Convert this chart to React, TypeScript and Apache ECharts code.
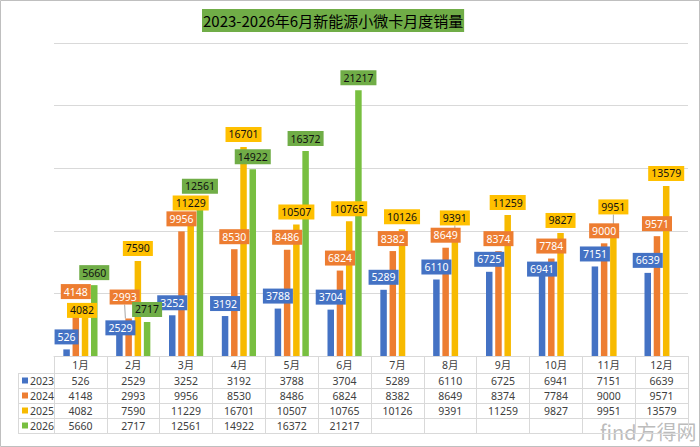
import React, { useEffect, useRef } from "react";
import * as echarts from "echarts";

const TITLE = "2023-2026年6月新能源小微卡月度销量";
const MONTHS = ["1月", "2月", "3月", "4月", "5月", "6月", "7月", "8月", "9月", "10月", "11月", "12月"];
const YEARS = ["2023", "2024", "2025", "2026"];
const S2023 = [526, 2529, 3252, 3192, 3788, 3704, 5289, 6110, 6725, 6941, 7151, 6639];
const S2024 = [4148, 2993, 9956, 8530, 8486, 6824, 8382, 8649, 8374, 7784, 9000, 9571];
const S2025 = [4082, 7590, 11229, 16701, 10507, 10765, 10126, 9391, 11259, 9827, 9951, 13579];
const S2026: (number | null)[] = [5660, 2717, 12561, 14922, 16372, 21217, null, null, null, null, null, null];
const SERIES = [S2023, S2024, S2025, S2026];

// styling
const BAR_COLORS = ["#4472C4", "#ED7D31", "#F7BA00", "#78BF40"];
const LABEL_BG = ["#4472C4", "#ED7D31", "#FFC000", "#70AD47"];
const LABEL_FG = ["#ffffff", "#ffffff", "#111111", "#111111"];

// layout
const W = 700;
const H = 447;
const GRID_L = 54;
const GRID_R = 688;
const GRID_T = 43;
const AXIS_Y = 356;
const HEAD_H = 17;
const ROW_H = 15;
const TABLE_L = 18;
const LINE_C = "#d9d9d9";
const TEXT_C = "#404040";
const FONT = "'Noto Sans', 'Noto Sans CJK SC', sans-serif";

// manual label nudges (series:index -> [dx, dy]) and which get leader lines
const LABEL_SHIFT: Record<string, [number, number]> = {
  "2:0": [-3, 18],
  "0:1": [1, 16],
  "1:1": [-4, -9],
  "2:7": [0, -8],
  "0:9": [0, 12.5],
  "2:10": [0, -12],
};
const LEADERS = new Set(["1:1", "2:7", "2:10"]);

export default function App() {
  const ref = useRef<HTMLDivElement>(null);
  useEffect(() => {
    document.body.style.margin = "0";
    const chart = echarts.init(ref.current!, null, { renderer: "svg" });
    const tableBottom = AXIS_Y + HEAD_H + ROW_H * 4;

    const xAxes: any[] = [
      {
        type: "category",
        data: MONTHS,
        position: "bottom",
        axisLine: { show: true, lineStyle: { color: LINE_C } },
        axisTick: { show: true, interval: 0, length: tableBottom - AXIS_Y, lineStyle: { color: LINE_C } },
        axisLabel: { interval: 0, margin: 0, lineHeight: HEAD_H, fontSize: 10.5, color: TEXT_C, fontFamily: FONT },
      },
    ];
    SERIES.forEach((vals, r) => {
      xAxes.push({
        type: "category",
        data: MONTHS,
        position: "bottom",
        offset: HEAD_H + ROW_H * r,
        axisLine: { show: true, lineStyle: { color: LINE_C } },
        axisTick: { show: false },
        axisLabel: {
          interval: 0,
          margin: 0,
          lineHeight: ROW_H,
          fontSize: 10.5,
          color: TEXT_C,
          fontFamily: FONT,
          formatter: (_v: string, idx: number) => (vals[idx] == null ? "" : String(vals[idx])),
        },
      });
    });
    xAxes.push({
      type: "category",
      data: MONTHS,
      position: "bottom",
      offset: HEAD_H + ROW_H * 4,
      axisLine: { show: true, lineStyle: { color: LINE_C } },
      axisTick: { show: false },
      axisLabel: { show: false },
    });

    const leftLines: any[] = [];
    for (let r = 0; r <= 4; r++) {
      const y = AXIS_Y + HEAD_H + ROW_H * r + 0.5;
      leftLines.push({ type: "line", shape: { x1: TABLE_L, y1: y, x2: GRID_L, y2: y }, style: { stroke: LINE_C, lineWidth: 1 }, silent: true });
    }
    leftLines.push({
      type: "line",
      shape: { x1: TABLE_L + 0.5, y1: AXIS_Y + HEAD_H, x2: TABLE_L + 0.5, y2: tableBottom + 0.5 },
      style: { stroke: LINE_C, lineWidth: 1 },
      silent: true,
    });

    chart.setOption({
      animation: false,
      backgroundColor: "#ffffff",
      title: {
        text: TITLE,
        left: 202,
        top: 9,
        padding: [3, 1],
        backgroundColor: "#70AD47",
        textStyle: { fontSize: 15, lineHeight: 17, fontWeight: "normal", color: "#000", fontFamily: "'Noto Sans CJK SC', sans-serif" },
      },
      legend: {
        data: YEARS,
        orient: "vertical",
        left: TABLE_L + 4,
        top: AXIS_Y + HEAD_H,
        padding: 0,
        itemGap: 0,
        itemWidth: 6,
        itemHeight: 6,
        icon: "rect",
        selectedMode: false,
        textStyle: { fontSize: 10.5, lineHeight: ROW_H, color: TEXT_C, fontFamily: FONT, padding: [0, 0, 0, -3] },
      },
      grid: { left: GRID_L, right: W - GRID_R, top: GRID_T, bottom: H - AXIS_Y },
      xAxis: xAxes,
      yAxis: {
        type: "value",
        min: 0,
        max: 25000,
        interval: 5000,
        axisLabel: { show: false },
        axisLine: { show: false },
        axisTick: { show: false },
        splitLine: { lineStyle: { color: LINE_C, width: 1 } },
      },
      series: SERIES.map((vals, si) => ({
        name: YEARS[si],
        type: "bar",
        xAxisIndex: 0,
        barWidth: 6.5,
        barGap: "42%",
        itemStyle: { color: BAR_COLORS[si] },
        data: vals.map((v, i) => (LEADERS.has(`${si}:${i}`) ? { value: v, labelLine: { show: true, lineStyle: { color: "#a6a6a6", width: 1 } } } : v)),
        label: {
          show: true,
          position: "top",
          distance: 5,
          fontSize: 10.5,
          lineHeight: 10,
          fontFamily: FONT,
          padding: [2.5, 3],
          backgroundColor: LABEL_BG[si],
          color: LABEL_FG[si],
        },
        labelLayout: (p: any) => {
          const s = LABEL_SHIFT[`${p.seriesIndex}:${p.dataIndex}`];
          return s ? { dx: s[0], dy: s[1] } : {};
        },
      })),
      graphic: [
        ...leftLines,
        {
          type: "rect",
          shape: { x: 0.5, y: 0.5, width: W - 1, height: H - 1 },
          style: { fill: "none", stroke: "#bfbfbf", lineWidth: 1 },
          silent: true,
        },
        {
          type: "text",
          x: 600,
          y: 421,
          style: { text: "find方得网", fontSize: 20, fill: "#b0b0b0", opacity: 0.85, fontFamily: "'Noto Sans CJK SC', sans-serif" },
          silent: true,
        },
      ],
    });
    return () => chart.dispose();
  }, []);
  return <div ref={ref} style={{ width: W, height: H }} />;
}
